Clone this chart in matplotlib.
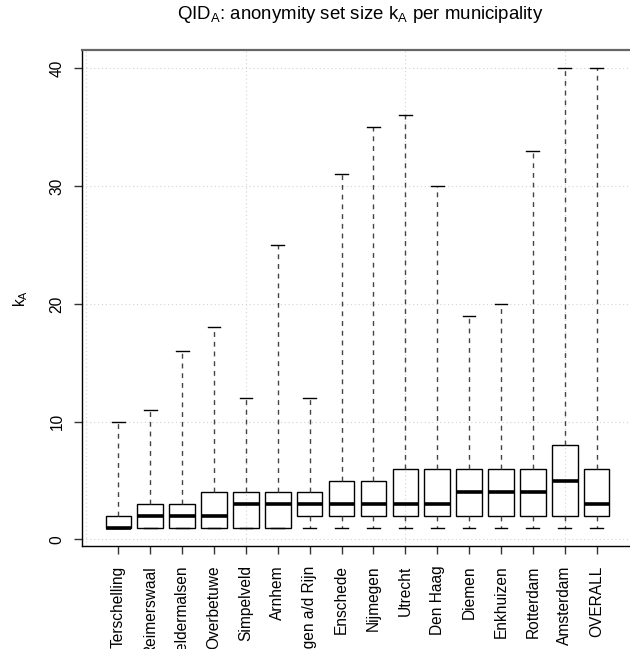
import matplotlib
matplotlib.use("Agg")
import matplotlib.pyplot as plt

plt.rcParams['font.family'] = ['Liberation Sans', 'DejaVu Sans']
plt.rcParams['mathtext.fontset'] = 'custom'
plt.rcParams['mathtext.rm'] = 'Liberation Sans'
plt.rcParams['mathtext.it'] = 'Liberation Sans:italic'

# municipalities, in plot order
names = ["Terschelling", "Reimerswaal", "Geldermalsen", "Overbetuwe", "Simpelveld",
         "Arnhem", "Wageningen a/d Rijn", "Enschede", "Nijmegen", "Utrecht",
         "Den Haag", "Diemen", "Enkhuizen", "Rotterdam", "Amsterdam", "OVERALL"]
whislo = [1, 1, 1, 1, 1, 1, 1, 1, 1, 1, 1, 1, 1, 1, 1, 1]
q1 = [1, 1, 1, 1, 1, 1, 2, 2, 2, 2, 2, 2, 2, 2, 2, 2]
med = [1, 2, 2, 2, 3, 3, 3, 3, 3, 3, 3, 4, 4, 4, 5, 3]
q3 = [2, 3, 3, 4, 4, 4, 4, 5, 5, 6, 6, 6, 6, 6, 8, 6]
whishi = [10, 11, 16, 18, 12, 25, 12, 31, 35, 36, 30, 19, 20, 33, 40, 40]

stats = []
for i in range(len(names)):
    stats.append({'label': names[i], 'whislo': whislo[i], 'q1': q1[i], 'med': med[i],
                  'q3': q3[i], 'whishi': whishi[i], 'fliers': []})

W, H = 630, 649
fig = plt.figure(figsize=(W / 100, H / 100), dpi=100)
# plot region runs a little past the right edge, like the original
ax = fig.add_axes([82 / W, 1 - 546 / H, (633 - 82) / W, (546 - 50) / H])

n = len(names)
pos = list(range(1, n + 1))
ax.bxp(stats, positions=pos, widths=0.8, showfliers=False, patch_artist=True,
       boxprops=dict(facecolor='none', edgecolor='black', linewidth=1.0),
       medianprops=dict(color='black', linewidth=2.6, solid_capstyle='butt'),
       whiskerprops=dict(color='#444444', linewidth=1.0, linestyle=(0, (3.5, 3.5))),
       capprops=dict(color='black', linewidth=1.0), capwidths=0.4)

# R style 4% padding
xpad = 0.04 * n
ax.set_xlim(0.5 - xpad, n + 0.5 + xpad)
ax.set_ylim(1 - 1.56, 40 + 1.56)

# dotted grid at pretty ticks
for gx in [0, 5, 10, 15]:
    ax.axvline(gx, color='#d3d3d3', linestyle=(0, (1, 2.5)), linewidth=0.8, zorder=0.5)
for gy in [0, 10, 20, 30, 40]:
    ax.axhline(gy, color='#d3d3d3', linestyle=(0, (1, 2.5)), linewidth=0.8, zorder=0.5)

ax.set_yticks([0, 10, 20, 30, 40])
ax.set_yticklabels(['0', '10', '20', '30', '40'], rotation=90, va='center')
ax.set_xticks(pos)
ax.set_xticklabels(names, rotation=90)
ax.tick_params(axis='both', labelsize=11.2, length=6, width=1.0, color='#333333')
ax.tick_params(axis='y', pad=6.5)
ax.tick_params(axis='x', pad=8)

for s in ['left', 'bottom']:
    ax.spines[s].set_color('black')
    ax.spines[s].set_linewidth(1.0)
ax.spines['top'].set_color('#666666')
ax.spines['top'].set_linewidth(1.6)
ax.spines['right'].set_color('#666666')

ax.set_ylabel(r'k$_{\mathrm{A}}$', fontsize=11.2)
ax.yaxis.set_label_coords((30 - 82) / (633 - 82), 0.5)

fig.text(360 / W, 1 - 19 / H, r'QID$_{\mathrm{A}}$: anonymity set size k$_{\mathrm{A}}$ per municipality',
         ha='center', va='baseline', fontsize=13.4)

fig.savefig('out.png', dpi=100)
